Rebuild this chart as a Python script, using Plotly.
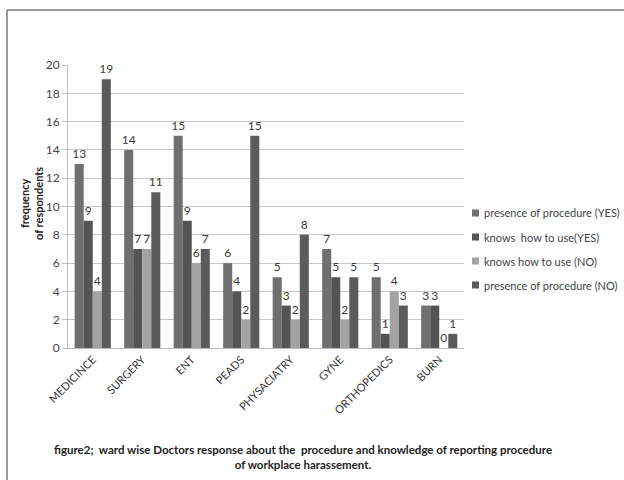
import plotly.graph_objects as go

wards = ["MEDICINCE", "SURGERY", "ENT", "PEADS", "PHYSACIATRY", "GYNE", "ORTHOPEDICS", "BURN"]
presence_yes = [13, 14, 15, 6, 5, 7, 5, 3]
knows_yes = [9, 7, 9, 4, 3, 5, 1, 3]
knows_no = [4, 7, 6, 2, 2, 2, 4, 0]
presence_no = [19, 11, 7, 15, 8, 5, 3, 1]

series = [
    ("presence of procedure (YES)", presence_yes, "#6f6f6f"),
    ("knows  how to use(YES)", knows_yes, "#545454"),
    ("knows how to use (NO)", knows_no, "#a3a3a3"),
    ("presence of procedure (NO)", presence_no, "#5b5b5b"),
]

FONT = "Lato"

fig = go.Figure()
for name, vals, col in series:
    fig.add_trace(go.Bar(
        x=wards, y=vals, name=name, marker_color=col, marker_line_width=0,
        text=vals, textposition="outside", cliponaxis=False, constraintext="none",
        textfont=dict(size=12, color="#3a3a3a", family=FONT),
        showlegend=False,
    ))

# plot-area pixel geometry
L, R, T, B = 68, 464, 65, 348
W, H = R - L, B - T

def px(x):
    return (x - L) / W

def py(y):
    return (B - y) / H

shapes = [
    dict(type="line", xref="paper", yref="paper", x0=px(7), x1=px(624), y0=py(10), y1=py(10),
         line=dict(color="#9a9a9a", width=2)),
    dict(type="line", xref="paper", yref="paper", x0=px(7), x1=px(7), y0=py(10), y1=py(480),
         line=dict(color="#9a9a9a", width=2)),
]

annotations = [
    dict(xref="paper", yref="paper", x=px(303), y=py(441), xanchor="center", yanchor="top",
         showarrow=False, align="center",
         text="<b>figure2;  ward wise Doctors response about the  procedure and knowledge of reporting procedure<br>of workplace harassement.</b>",
         font=dict(size=11.5, color="#222222", family=FONT)),
    # y-axis title
    dict(xref="paper", yref="paper", x=px(31), y=py(204), xanchor="center", yanchor="middle",
         showarrow=False, align="center", textangle=-90,
         text="<b>frequency<br>of respondents</b>",
         font=dict(size=11, color="#222222", family=FONT)),
]

# legend: small squares with labels to the right of the plot
leg_rows = [213, 237, 261, 285]
for (name, _, col), yc in zip(series, leg_rows):
    shapes.append(dict(type="rect", xref="paper", yref="paper",
                       x0=px(472), x1=px(479), y0=py(yc + 3.5), y1=py(yc - 3.5),
                       fillcolor=col, line=dict(width=0)))
    annotations.append(dict(xref="paper", yref="paper", x=px(482), y=py(yc),
                            xanchor="left", yanchor="middle", showarrow=False,
                            text=name, font=dict(size=11, color="#444444", family=FONT)))

fig.update_layout(
    width=624, height=480,
    margin=dict(l=L, r=624 - R, t=T, b=480 - B, autoexpand=False),
    paper_bgcolor="white", plot_bgcolor="white",
    barmode="group", bargap=0.27, bargroupgap=0,
    font=dict(family=FONT, color="#444444", size=11),
    showlegend=False,
    shapes=shapes,
    annotations=annotations,
)
fig.update_xaxes(tickangle=-45, tickfont=dict(size=11, color="#333333", family=FONT),
                 showline=True, linecolor="#bbbbbb", ticks="", showgrid=False)
fig.update_yaxes(range=[0, 20], dtick=2, showgrid=True, gridcolor="#c8c8c8",
                 showline=True, linecolor="#bbbbbb", ticks="outside", ticklen=5, tickcolor="#bbbbbb",
                 tickfont=dict(size=12, color="#444444", family=FONT), zeroline=False)

fig.write_html("out.html")
